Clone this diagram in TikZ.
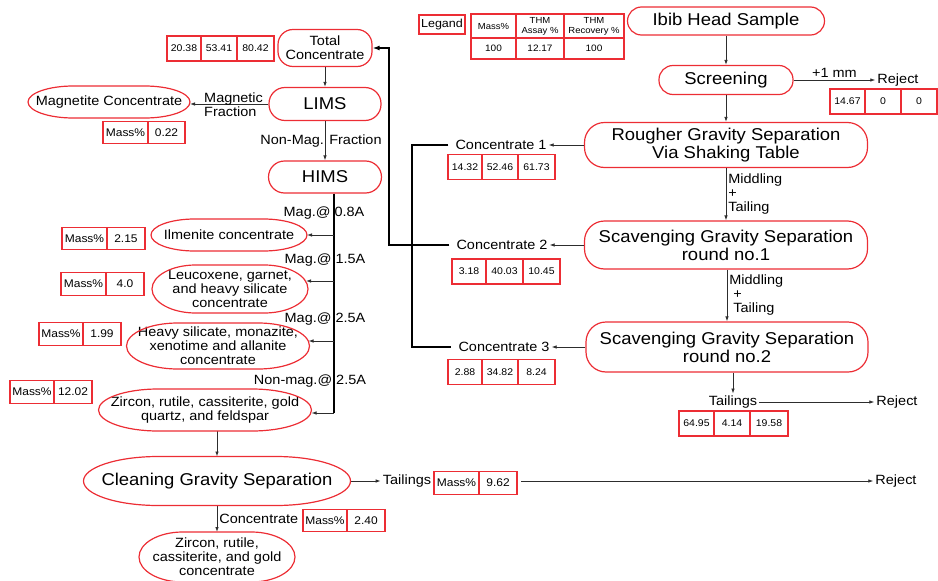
\documentclass[tikz,border=0pt]{standalone}
\usepackage{fontspec}
\setmainfont{Liberation Sans}[FakeStretch=1.08]
\usetikzlibrary{positioning, arrows.meta, calc}
\definecolor{rojo}{RGB}{236,45,52}
\definecolor{gris}{RGB}{45,45,45}

\begin{document}
\begin{tikzpicture}[x=1pt, y=-1pt]
		% Estilos de los bloques, tablas y flechas
		\tikzset{
			big/.style={font=\fontsize{17.1}{18}\selectfont},
			mid/.style={font=\fontsize{13.4}{14}\selectfont},
			proc/.style={
					rectangle, draw=rojo, line width=1.2pt, rounded corners=14pt,
					align=center, inner sep=2pt, big
				},
			txt/.style={mid, align=center, inner sep=2pt},
			soft/.style={txt, rectangle, inner sep=0pt, outer sep=0pt},
			softline/.style={draw=rojo, line width=1.2pt},
			cell/.style={
					rectangle, draw=rojo, line width=1.1pt, inner sep=0pt, outer sep=0pt,
					minimum height=25pt, font=\fontsize{9.7}{11}\selectfont
				},
			mcell/.style={cell, minimum height=22.5pt, font=\fontsize{11.1}{12}\selectfont},
			hcell/.style={cell, align=center, font=\fontsize{8.8}{10.2}\selectfont},
			line/.style={draw=gris, line width=0.8pt, -{Latex[length=5pt,width=3.5pt]}},
			bus/.style={draw=black, line width=1.4pt}
		}
		\useasboundingbox (0,0) rectangle (938,581);

		% Leyenda
		\node[cell, minimum width=46pt, minimum height=19pt, font=\fontsize{11.6}{12}\selectfont] (leg) at (442,24.5) {Legand};
		\node[hcell, minimum width=45pt, minimum height=24pt, anchor=north west] (lh1) at (471,14) {Mass\%};
		\node[hcell, minimum width=48pt, minimum height=24pt, right=0pt of lh1] (lh2) {THM\\Assay \%};
		\node[hcell, minimum width=60pt, minimum height=24pt, right=0pt of lh2] (lh3) {THM\\Recovery \%};
		\node[hcell, font=\fontsize{9.3}{10}\selectfont, minimum width=45pt, minimum height=21pt, below=0pt of lh1] (lv1) {100};
		\node[hcell, font=\fontsize{9.3}{10}\selectfont, minimum width=48pt, minimum height=21pt, below=0pt of lh2] (lv2) {12.17};
		\node[hcell, font=\fontsize{9.3}{10}\selectfont, minimum width=60pt, minimum height=21pt, below=0pt of lh3] (lv3) {100};

		% Circuito gravimetrico (derecha)
		\node[proc, minimum width=197pt, minimum height=28pt] (ibib) at (726,21) {Ibib Head Sample};
		\node[proc, minimum width=134pt, minimum height=29pt] (scr) at (726,80) {Screening};
		\node[proc, rounded corners=20pt, minimum width=283pt, minimum height=45pt] (rough) at (726,145) {Rougher Gravity Separation\\Via Shaking Table};
		\node[proc, rounded corners=20pt, minimum width=283pt, minimum height=48pt] (scav1) at (726,245) {Scavenging Gravity Separation\\round no.1};
		\node[proc, rounded corners=20pt, minimum width=282pt, minimum height=50pt] (scav2) at (727,347) {Scavenging Gravity Separation\\round no.2};

		\draw[line] (ibib) -- (scr);
		\draw[line] (scr) -- (rough);
		\draw[line] (rough) -- (scav1) node[midway, right, txt, align=left] {Middling\\+\\Tailing};
		\draw[line] (scav1.south -| scav2.north) -- (scav2.north) node[midway, right, txt, align=left] {Middling\\\ +\\\ Tailing};

		\node[txt] (rej1) at (898,80) {Reject};
		\draw[line] (scr) -- (rej1) node[midway, above, txt] {+1 mm};
		\node[cell, minimum width=35pt, anchor=west] (r1a) at (830,101.5) {14.67};
		\node[cell, minimum width=36pt, right=0pt of r1a] (r1b) {0};
		\node[cell, minimum width=36pt, right=0pt of r1b] (r1c) {0};

		\node[txt] (tl1) at (733,402) {Tailings};
		\node[txt] (rej2) at (897,402) {Reject};
		\draw[line] (scav2.south -| tl1.north) -- (tl1.north);
		\draw[line] (tl1) -- (rej2);
		\node[cell, minimum width=35pt, anchor=west] (t1a) at (679,423.5) {64.95};
		\node[cell, minimum width=36pt, right=0pt of t1a] (t1b) {4.14};
		\node[cell, minimum width=38pt, right=0pt of t1b] (t1c) {19.58};

		% Concentrados y sus tablas
		\node[txt] (c1) at (501,145) {Concentrate 1};
		\node[txt] (c2) at (502,245) {Concentrate 2};
		\node[txt] (c3) at (504,347) {Concentrate 3};
		\draw[line] (rough) -- (c1);
		\draw[line] (scav1) -- (c2);
		\draw[line] (scav2) -- (c3);

		\node[cell, minimum width=34pt, anchor=west] (k1a) at (448,167) {14.32};
		\node[cell, minimum width=36pt, right=0pt of k1a] (k1b) {52.46};
		\node[cell, minimum width=37pt, right=0pt of k1b] (k1c) {61.73};
		\node[cell, minimum width=34pt, anchor=west] (k2a) at (452,271.5) {3.18};
		\node[cell, minimum width=37pt, right=0pt of k2a] (k2b) {40.03};
		\node[cell, minimum width=37pt, right=0pt of k2b] (k2c) {10.45};
		\node[cell, minimum width=34pt, anchor=west] (k3a) at (448,372) {2.88};
		\node[cell, minimum width=36pt, right=0pt of k3a] (k3b) {34.82};
		\node[cell, minimum width=37pt, right=0pt of k3b] (k3c) {8.24};

		% Circuito magnetico (izquierda)
		\node[proc, mid, rounded corners=15pt, minimum width=94pt, minimum height=37pt] (tc) at (325,48) {Total\\Concentrate};
		\node[cell, minimum width=34pt, anchor=west] (s1a) at (167,48.5) {20.38};
		\node[cell, minimum width=36pt, right=0pt of s1a] (s1b) {53.41};
		\node[cell, minimum width=37pt, right=0pt of s1b] (s1c) {80.42};

		\coordinate (busR) at (412,0);
		\coordinate (busL) at (389,0);
		\draw[bus] ([xshift=-5pt]c1.west) -| (busR |- c3.west) -- ([xshift=-5pt]c3.west);
		\draw[bus, -{Latex[length=7pt,width=5pt]}] ([xshift=-5pt]c2.west) -| (busL |- tc.east) -- (tc.east);

		\node[proc, rounded corners=16pt, minimum width=112pt, minimum height=33pt] (lims) at (325,104) {LIMS};
		\node[proc, rounded corners=16pt, minimum width=113pt, minimum height=32pt] (hims) at (325,177) {HIMS};
		\node[soft, minimum width=162pt, minimum height=32pt] (magn) at (109,102) {Magnetite Concentrate};
		\draw[line] (tc) -- (lims);
		\draw[line] (lims.west) -- (lims.west -| magn.east);
		\node[txt, align=left, anchor=west] (magfr) at (202,105) {Magnetic\\Fraction};
		\draw[line] (lims) -- (hims) node[midway, txt, xshift=-4pt] {Non-Mag. Fraction};
		\node[mcell, minimum width=45pt, anchor=west] (m1a) at (103,132.5) {Mass\%};
		\node[mcell, minimum width=37pt, right=0pt of m1a] (m1b) {0.22};

		% Fracciones del HIMS
		\node[soft, minimum width=156pt, minimum height=32pt] (ilm) at (229,235) {Ilmenite concentrate};
		\node[soft, minimum width=156pt, minimum height=48pt] (leuc) at (230,289) {Leucoxene, garnet,\\and heavy silicate\\concentrate};
		\node[soft, minimum width=183pt, minimum height=46pt] (hvy) at (218,346) {Heavy silicate, monazite,\\xenotime and allanite\\concentrate};
		\node[soft, minimum width=213pt, minimum height=42pt] (zir) at (205,410) {Zircon, rutile, cassiterite, gold\\quartz, and feldspar};

		\coordinate (hb) at (334,413);
		\coordinate (leucIn) at ([yshift=8pt, xshift=-2pt]leuc.east);
		\coordinate (hvyIn) at ([yshift=5pt, xshift=-1pt]hvy.east);
		\draw[bus] (hims.south -| hb) -- (hb);
		\draw[line] (hb |- ilm.east) -- (ilm.east);
		\draw[line] (hb |- leucIn) -- (leucIn);
		\draw[line] (hb |- hvyIn) -- (hvyIn);
		\draw[line] (hb) -- (hb -| zir.east);

		\node[txt] (b1) at (324,213) {Mag.@ 0.8A};
		\node[txt] (b2) at (325,260) {Mag.@ 1.5A};
		\node[txt] (b3) at (325,319) {Mag.@ 2.5A};
		\node[txt] (b4) at (310,381) {Non-mag.@ 2.5A};

		\node[mcell, minimum width=45pt, anchor=west] (m2a) at (62,238.5) {Mass\%};
		\node[mcell, minimum width=38pt, right=0pt of m2a] (m2b) {2.15};
		\node[mcell, minimum width=45pt, anchor=west] (m3a) at (61,284) {Mass\%};
		\node[mcell, minimum width=38pt, right=0pt of m3a] (m3b) {4.0};
		\node[mcell, minimum width=44pt, anchor=west] (m4a) at (39,334) {Mass\%};
		\node[mcell, minimum width=38pt, right=0pt of m4a] (m4b) {1.99};
		\node[mcell, minimum width=44pt, anchor=west] (m5a) at (10,392) {Mass\%};
		\node[mcell, minimum width=38pt, right=0pt of m5a] (m5b) {12.02};

		% Limpieza final
		\node[soft, big, minimum width=267pt, minimum height=49pt] (clean) at (217,481) {Cleaning Gravity Separation};
		\node[soft, minimum width=156pt, minimum height=50pt] (fin) at (217,557) {Zircon, rutile,\\cassiterite, and gold\\concentrate};
		\draw[line] (clean.north |- zir.south) -- (clean.north);
		\draw[line] (clean) -- (fin) node[midway, right, txt] {Concentrate};
		\node[mcell, minimum width=44pt, anchor=west] (m7a) at (303,520.5) {Mass\%};
		\node[mcell, minimum width=38pt, right=0pt of m7a] (m7b) {2.40};

		\node[txt] (tl2) at (407,481) {Tailings};
		\node[txt] (rej3) at (896,481) {Reject};
		\draw[line] (clean) -- (tl2);
		\node[mcell, minimum width=45pt, anchor=west] (m6a) at (434,483) {Mass\%};
		\node[mcell, minimum width=38pt, right=0pt of m6a] (m6b) {9.62};
		\draw[line] ([xshift=4pt]m6b.east |- rej3.west) -- (rej3.west);

		% Contornos ovalados de los productos
		\foreach \nd in {magn, ilm, leuc, hvy, zir, clean, fin} {
				\draw[softline] let \p1=(\nd.north east), \p2=(\nd.south west),
					\n1={0.28*(\x1-\x2)}, \n2={0.5*(\y1-\y2)} in
					(\x2+\n1,\y1) -- (\x1-\n1,\y1)
					arc[start angle=90, end angle=-90, x radius=\n1*1pt, y radius=\n2*1pt]
					-- (\x2+\n1,\y2)
					arc[start angle=270, end angle=90, x radius=\n1*1pt, y radius=\n2*1pt] -- cycle;
			}
	\end{tikzpicture}
\end{document}
